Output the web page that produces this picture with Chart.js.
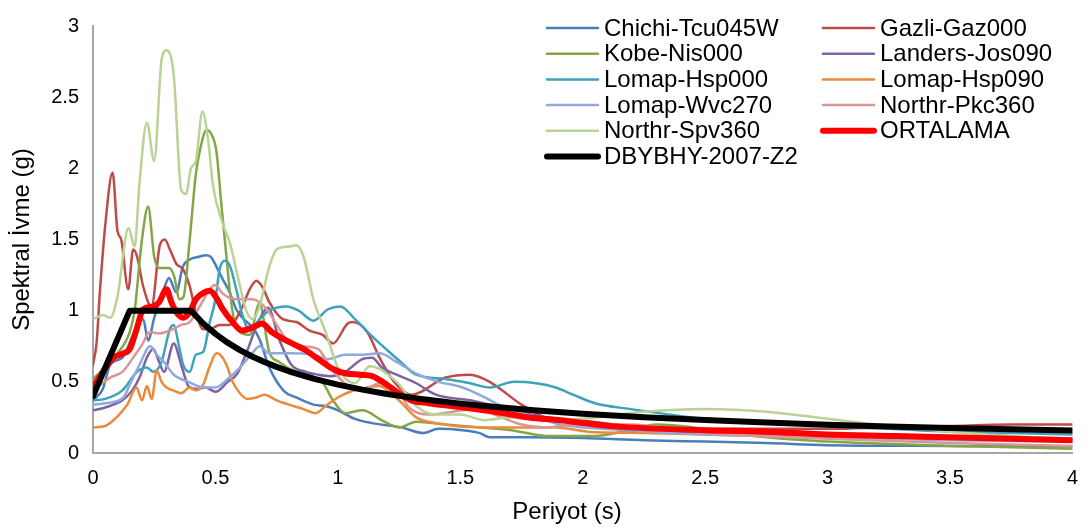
<!DOCTYPE html>
<html lang="tr">
<head>
    <meta charset="UTF-8">
    <title>Spektral İvme - Periyot</title>
    <script src="https://cdn.jsdelivr.net/npm/chart.js"></script>
    <style>
        body {
            margin: 0;
            background: #ffffff;
        }
        #spektrumChart {
            display: block;
        }
    </style>
</head>
<body>

<canvas id="spektrumChart" width="1091" height="529"></canvas>

<script>
    // Kayit isimleri (legend sirasi)
    const kayitlar = ['Chichi-Tcu045W', 'Gazli-Gaz000', 'Kobe-Nis000', 'Landers-Jos090', 'Lomap-Hsp000',
        'Lomap-Hsp090', 'Lomap-Wvc270', 'Northr-Pkc360', 'Northr-Spv360', 'ORTALAMA', 'DBYBHY-2007-Z2'];

    // Periyot (s) ve spektral ivme (g) degerleri
    const chichiT = [0, 0.04, 0.07, 0.12, 0.164, 0.205, 0.225, 0.25, 0.293, 0.31, 0.34, 0.367, 0.395, 0.436, 0.46, 0.48, 0.504, 0.53, 0.558, 0.585, 0.61, 0.653, 0.68, 0.72, 0.78, 0.83, 0.9, 0.95, 1.0, 1.07, 1.14, 1.26, 1.35, 1.41, 1.51, 1.58, 1.62, 1.78, 2.0, 2.25, 2.5, 2.75, 3.0, 3.5, 4.0];
    const chichiSa = [0.37, 0.45, 0.62, 0.67, 0.83, 0.94, 0.79, 0.95, 1.17, 1.23, 1.13, 1.31, 1.36, 1.38, 1.39, 1.38, 1.31, 1.22, 1.13, 1.01, 0.95, 0.88, 0.8, 0.6, 0.435, 0.39, 0.34, 0.33, 0.30, 0.24, 0.21, 0.18, 0.14, 0.17, 0.16, 0.14, 0.11, 0.11, 0.105, 0.09, 0.08, 0.07, 0.055, 0.05, 0.045];

    const gazliT = [0, 0.015, 0.028, 0.05, 0.08, 0.1, 0.115, 0.144, 0.164, 0.18, 0.205, 0.239, 0.273, 0.293, 0.314, 0.34, 0.368, 0.395, 0.42, 0.45, 0.477, 0.517, 0.558, 0.6, 0.64, 0.667, 0.694, 0.72, 0.775, 0.83, 0.884, 0.938, 0.98, 1.04, 1.06, 1.12, 1.17, 1.23, 1.30, 1.44, 1.54, 1.62, 1.75, 1.85, 1.98, 2.25, 2.5, 2.75, 3.0, 3.25, 3.5, 3.75, 4.0];
    const gazliSa = [0.62, 0.78, 1.13, 1.6, 1.97, 1.56, 1.5, 1.15, 1.43, 1.38, 1.17, 1.03, 1.46, 1.5, 1.43, 1.33, 1.29, 1.17, 0.99, 0.87, 0.87, 0.9, 0.9, 0.99, 1.15, 1.21, 1.16, 1.06, 0.94, 0.92, 0.86, 0.83, 0.77, 0.91, 0.92, 0.85, 0.67, 0.5, 0.41, 0.53, 0.55, 0.5, 0.34, 0.25, 0.23, 0.18, 0.17, 0.17, 0.17, 0.18, 0.19, 0.2, 0.2];

    const kobeT = [0, 0.05, 0.1, 0.15, 0.17, 0.2, 0.225, 0.25, 0.27, 0.31, 0.33, 0.354, 0.37, 0.395, 0.42, 0.436, 0.463, 0.48, 0.504, 0.524, 0.545, 0.558, 0.578, 0.6, 0.64, 0.68, 0.72, 0.76, 0.83, 0.88, 0.94, 0.98, 1.03, 1.1, 1.18, 1.25, 1.32, 1.44, 1.58, 1.71, 1.85, 2.05, 2.19, 2.3, 2.5, 2.75, 3.0, 3.15, 3.5, 3.75, 4.0];
    const kobeSa = [0.52, 0.6, 0.7, 0.85, 1.0, 1.5, 1.73, 1.38, 1.3, 1.3, 1.25, 1.08, 1.1, 1.5, 1.96, 2.12, 2.27, 2.25, 2.12, 1.75, 1.38, 1.15, 0.92, 0.85, 0.83, 1.05, 0.71, 0.64, 0.57, 0.55, 0.49, 0.37, 0.28, 0.3, 0.23, 0.18, 0.22, 0.2, 0.18, 0.16, 0.12, 0.12, 0.16, 0.2, 0.17, 0.11, 0.08, 0.07, 0.05, 0.04, 0.03];

    const landersT = [0, 0.05, 0.12, 0.16, 0.19, 0.22, 0.246, 0.27, 0.29, 0.33, 0.36, 0.39, 0.42, 0.46, 0.5, 0.55, 0.59, 0.63, 0.67, 0.715, 0.76, 0.81, 0.87, 0.92, 0.97, 1.03, 1.1, 1.14, 1.18, 1.24, 1.32, 1.4, 1.54, 1.62, 1.71, 1.85, 2.05, 2.19, 2.5, 2.75, 3.0, 3.5, 4.0];
    const landersSa = [0.30, 0.32, 0.37, 0.44, 0.53, 0.67, 0.73, 0.64, 0.57, 0.77, 0.62, 0.47, 0.45, 0.46, 0.43, 0.5, 0.56, 0.72, 0.9, 1.02, 0.8, 0.62, 0.57, 0.55, 0.54, 0.57, 0.66, 0.67, 0.6, 0.55, 0.49, 0.41, 0.37, 0.34, 0.3, 0.25, 0.19, 0.16, 0.14, 0.13, 0.12, 0.1, 0.09];

    const hsp000T = [0, 0.05, 0.12, 0.18, 0.22, 0.246, 0.28, 0.314, 0.33, 0.35, 0.368, 0.395, 0.42, 0.45, 0.477, 0.5, 0.517, 0.538, 0.56, 0.585, 0.61, 0.64, 0.68, 0.72, 0.79, 0.84, 0.9, 0.96, 1.01, 1.07, 1.14, 1.21, 1.25, 1.32, 1.44, 1.54, 1.62, 1.72, 1.81, 1.89, 1.96, 2.05, 2.19, 2.5, 2.75, 3.0, 3.25, 3.5, 3.75, 4.0];
    const hsp000Sa = [0.37, 0.38, 0.44, 0.57, 0.6, 0.57, 0.64, 0.87, 0.9, 0.76, 0.62, 0.57, 0.69, 0.71, 0.92, 1.08, 1.29, 1.35, 1.31, 1.15, 0.97, 0.86, 0.94, 1.0, 1.03, 1.0, 0.93, 1.01, 1.03, 0.94, 0.82, 0.71, 0.65, 0.55, 0.52, 0.49, 0.46, 0.5, 0.49, 0.46, 0.41, 0.35, 0.31, 0.24, 0.21, 0.19, 0.17, 0.15, 0.14, 0.13];

    const hsp090T = [0, 0.05, 0.096, 0.14, 0.178, 0.2, 0.22, 0.24, 0.26, 0.28, 0.3, 0.327, 0.36, 0.395, 0.42, 0.45, 0.475, 0.504, 0.52, 0.545, 0.57, 0.6, 0.63, 0.667, 0.7, 0.75, 0.8, 0.857, 0.91, 0.95, 1.0, 1.05, 1.12, 1.17, 1.21, 1.25, 1.32, 1.4, 1.48, 1.62, 1.75, 1.89, 2.02, 2.25, 2.5, 2.75, 3.0, 3.25, 3.5, 3.75, 4.0];
    const hsp090Sa = [0.18, 0.19, 0.25, 0.34, 0.46, 0.37, 0.47, 0.38, 0.58, 0.5, 0.46, 0.44, 0.42, 0.46, 0.44, 0.48, 0.6, 0.7, 0.69, 0.62, 0.5, 0.42, 0.38, 0.39, 0.41, 0.37, 0.34, 0.31, 0.28, 0.33, 0.39, 0.43, 0.46, 0.47, 0.43, 0.37, 0.25, 0.21, 0.19, 0.18, 0.18, 0.18, 0.15, 0.14, 0.13, 0.12, 0.11, 0.11, 0.1, 0.1, 0.1];

    const wvcT = [0, 0.05, 0.124, 0.15, 0.19, 0.234, 0.26, 0.29, 0.33, 0.39, 0.45, 0.5, 0.55, 0.6, 0.65, 0.68, 0.72, 0.8, 0.9, 0.96, 1.03, 1.1, 1.17, 1.24, 1.33, 1.41, 1.51, 1.6, 1.68, 1.81, 1.91, 2.19, 2.5, 3.0, 3.5, 4.0];
    const wvcSa = [0.34, 0.35, 0.39, 0.48, 0.62, 0.75, 0.69, 0.64, 0.55, 0.5, 0.46, 0.46, 0.52, 0.6, 0.7, 0.75, 0.7, 0.7, 0.69, 0.66, 0.69, 0.69, 0.7, 0.64, 0.55, 0.5, 0.46, 0.39, 0.32, 0.25, 0.2, 0.16, 0.13, 0.11, 0.09, 0.08];

    const pkcT = [0, 0.03, 0.07, 0.12, 0.164, 0.2, 0.232, 0.27, 0.327, 0.36, 0.395, 0.436, 0.477, 0.497, 0.53, 0.558, 0.6, 0.65, 0.71, 0.75, 0.8, 0.86, 0.92, 0.97, 1.05, 1.1, 1.17, 1.25, 1.29, 1.37, 1.51, 1.58, 1.64, 1.75, 1.85, 1.98, 2.19, 2.5, 3.0, 3.5, 4.0];
    const pkcSa = [0.46, 0.48, 0.53, 0.57, 0.67, 0.76, 0.85, 0.84, 0.87, 0.9, 0.92, 1.03, 1.15, 1.18, 1.12, 1.09, 1.08, 1.08, 1.01, 0.9, 0.78, 0.75, 0.73, 0.6, 0.46, 0.44, 0.49, 0.42, 0.32, 0.27, 0.3, 0.31, 0.27, 0.2, 0.18, 0.2, 0.2, 0.14, 0.1, 0.07, 0.05];

    const spvT = [0, 0.04, 0.07, 0.1, 0.145, 0.17, 0.19, 0.22, 0.25, 0.28, 0.30, 0.33, 0.36, 0.38, 0.40, 0.42, 0.447, 0.47, 0.49, 0.53, 0.56, 0.59, 0.626, 0.653, 0.68, 0.72, 0.75, 0.8, 0.83, 0.86, 0.9, 0.95, 1.0, 1.07, 1.13, 1.24, 1.32, 1.4, 1.5, 1.6, 1.7, 1.85, 2.0, 2.25, 2.5, 2.75, 3.0, 3.25, 3.5, 3.75, 4.0];
    const spvSa = [0.94, 0.97, 0.95, 1.1, 1.58, 1.45, 1.9, 2.32, 2.05, 2.76, 2.83, 2.65, 1.85, 1.82, 2.0, 2.05, 2.4, 2.2, 1.88, 1.61, 1.47, 1.25, 1.0, 0.94, 1.03, 1.31, 1.43, 1.45, 1.46, 1.38, 1.08, 0.85, 0.6, 0.49, 0.61, 0.5, 0.33, 0.27, 0.27, 0.23, 0.25, 0.23, 0.24, 0.29, 0.31, 0.29, 0.24, 0.19, 0.15, 0.12, 0.10];

    const ortT = [0, 0.04, 0.083, 0.124, 0.15, 0.178, 0.205, 0.246, 0.27, 0.3, 0.32, 0.34, 0.368, 0.395, 0.42, 0.456, 0.477, 0.504, 0.53, 0.57, 0.61, 0.65, 0.69, 0.73, 0.8, 0.87, 0.92, 0.98, 1.03, 1.09, 1.14, 1.2, 1.24, 1.3, 1.37, 1.51, 1.64, 1.78, 1.91, 2.05, 2.19, 2.5, 2.75, 3.0, 3.28, 3.5, 3.75, 4.0];
    const ortSa = [0.46, 0.57, 0.67, 0.70, 0.73, 0.87, 1.01, 1.03, 1.06, 1.15, 1.06, 0.99, 0.95, 0.99, 1.08, 1.13, 1.14, 1.09, 1.01, 0.92, 0.86, 0.88, 0.91, 0.85, 0.78, 0.72, 0.66, 0.59, 0.56, 0.55, 0.54, 0.48, 0.43, 0.37, 0.35, 0.32, 0.29, 0.25, 0.23, 0.2, 0.18, 0.16, 0.15, 0.13, 0.12, 0.11, 0.1, 0.09];

    // Tasarim spektrumu (DBYBHY 2007, Z2)
    const dbyT = [0, 0.15, 0.4, 0.45, 0.5, 0.55, 0.6, 0.65, 0.7, 0.75, 0.8, 0.9, 1.0, 1.1, 1.2, 1.3, 1.4, 1.5, 1.6, 1.8, 2.0, 2.25, 2.5, 2.75, 3.0, 3.25, 3.5, 3.75, 4.0];
    const dbySa = [0.4, 1.0, 1.0, 0.91, 0.837, 0.775, 0.723, 0.678, 0.639, 0.605, 0.574, 0.523, 0.48, 0.445, 0.415, 0.389, 0.367, 0.347, 0.33, 0.3, 0.276, 0.251, 0.231, 0.214, 0.199, 0.187, 0.176, 0.167, 0.158];

    const eksenX = [0, 0.5, 1, 1.5, 2, 2.5, 3, 3.5, 4];
    const eksenY = [0, 0.5, 1, 1.5, 2, 2.5, 3];

    const renkler = ['#4A7EBB', '#BE4B48', '#84A646', '#7F62A1', '#3DA2BB', '#EB8A3C', '#8FAADC', '#D99694', '#B9D295', '#FF0000', '#000000'];

    function noktalar(periyot, ivme) {
        return periyot.map((t, i) => ({ x: t, y: ivme[i] }));
    }

    const seriler = [
        [chichiT, chichiSa], [gazliT, gazliSa], [kobeT, kobeSa], [landersT, landersSa],
        [hsp000T, hsp000Sa], [hsp090T, hsp090Sa], [wvcT, wvcSa], [pkcT, pkcSa],
        [spvT, spvSa], [ortT, ortSa], [dbyT, dbySa]
    ];

    const datasets = seriler.map((s, i) => {
        const kalin = i >= 9;
        return {
            label: kayitlar[i],
            data: noktalar(s[0], s[1]),
            borderColor: renkler[i],
            backgroundColor: renkler[i],
            borderWidth: kalin ? 6 : 2.5,
            pointRadius: 0,
            fill: false,
            cubicInterpolationMode: i === 10 ? 'default' : 'monotone',
            tension: 0,
            borderJoinStyle: 'round',
            borderCapStyle: 'round',
            order: i === 10 ? 0 : (i === 9 ? 1 : 20 - i)
        };
    });

    // Sag ustteki iki sutunlu legend ve x ekseni basligi
    const ikiSutunLegend = {
        id: 'ikiSutunLegend',
        afterDatasetsDraw(chart) {
            const ctx = chart.ctx;
            ctx.save();
            ctx.font = '24px "Liberation Sans", Arial, sans-serif';
            ctx.textBaseline = 'middle';
            ctx.textAlign = 'left';
            chart.data.datasets.forEach((ds, i) => {
                const sutun = i % 2;
                const satir = Math.floor(i / 2);
                const x0 = sutun ? 823 : 547;
                const y = 28 + satir * 25.7;
                ctx.strokeStyle = ds.borderColor;
                ctx.lineWidth = ds.borderWidth;
                ctx.lineCap = 'round';
                ctx.beginPath();
                ctx.moveTo(x0, y);
                ctx.lineTo(x0 + 51, y);
                ctx.stroke();
                ctx.fillStyle = '#000000';
                ctx.fillText(ds.label, x0 + 57, y + 1);
            });
            // x ekseni basligi, grafikteki gibi biraz sola kaymis
            ctx.textAlign = 'center';
            ctx.fillText('Periyot (s)', 567, 512);
            ctx.restore();
        }
    };

    Chart.defaults.font.family = '"Liberation Sans", Arial, sans-serif';
    Chart.defaults.color = '#000000';

    const ctx = document.getElementById('spektrumChart').getContext('2d');
    const spektrumChart = new Chart(ctx, {
        type: 'line',
        data: { datasets: datasets },
        options: {
            responsive: false,
            animation: false,
            layout: { padding: { top: 19, right: 16, left: 0, bottom: 0 } },
            plugins: {
                legend: { display: false },
                tooltip: { enabled: false }
            },
            scales: {
                x: {
                    type: 'linear',
                    min: 0,
                    max: 4,
                    afterBuildTicks: (scale) => { scale.ticks = eksenX.map(v => ({ value: v })); },
                    afterFit: (scale) => { scale.height = 76; },
                    grid: { drawOnChartArea: false, drawTicks: false },
                    border: { color: '#a6a6a6', width: 2 },
                    ticks: {
                        padding: 13,
                        font: { size: 20 },
                        callback: (v) => String(v)
                    },
                    title: { display: false }
                },
                y: {
                    min: 0,
                    max: 3,
                    afterBuildTicks: (scale) => { scale.ticks = eksenY.map(v => ({ value: v })); },
                    afterFit: (scale) => { scale.width = 93; },
                    grid: { drawOnChartArea: false, drawTicks: false },
                    border: { color: '#a6a6a6', width: 2 },
                    ticks: {
                        padding: 14,
                        font: { size: 20 },
                        callback: (v) => String(v)
                    },
                    title: {
                        display: true,
                        text: 'Spektral İvme (g)',
                        font: { size: 24 },
                        padding: { top: 8, bottom: 0 }
                    }
                }
            }
        },
        plugins: [ikiSutunLegend]
    });
</script>

</body>
</html>
